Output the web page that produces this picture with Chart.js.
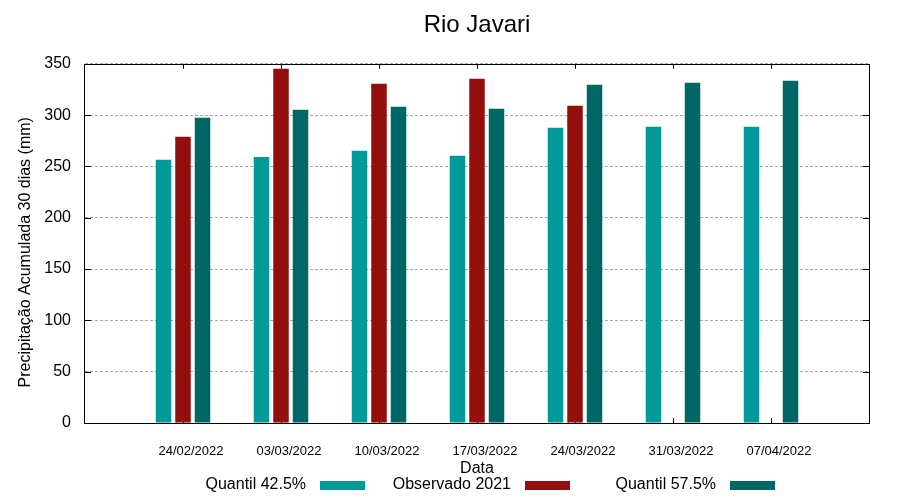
<!DOCTYPE html>
<html>
<head>
<meta charset="utf-8">
<title>Rio Javari</title>
<script src="https://cdn.jsdelivr.net/npm/chart.js@4.4.0/dist/chart.umd.min.js"></script>
<style>
  html, body { margin: 0; padding: 0; background: #fff; }
  #wrap { width: 900px; height: 500px; }
</style>
</head>
<body>
<div id="wrap"><canvas id="chart" width="900" height="500"></canvas></div>
<script>
// Data
const dates = ['24/02/2022', '03/03/2022', '10/03/2022', '17/03/2022', '24/03/2022', '31/03/2022', '07/04/2022'];
const quantil425 = [256.4, 259.3, 265.2, 260.3, 287.6, 288.6, 288.6];
const observado2021 = [278.8, 345.1, 330.5, 335.4, 309.1, null, null];
const quantil575 = [297.4, 305.2, 308.1, 306.1, 329.5, 331.5, 333.4];
const yTicks = [0, 50, 100, 150, 200, 250, 300, 350];

// empty slot on each side, like the gnuplot x range
const labels = ['', ...dates, ''];
const pad = arr => [null, ...arr, null];

Chart.defaults.font.family = '"Liberation Sans", Arial, sans-serif';
Chart.defaults.color = '#000';

// gnuplot style: inward ticks, closed frame, key with text before the sample
const gnuFrame = {
    id: 'gnuFrame',
    beforeDatasetsDraw(chart) {
        const { ctx, chartArea: a, scales: { x, y } } = chart;
        ctx.save();
        ctx.strokeStyle = '#000';
        ctx.lineWidth = 1;
        ctx.beginPath();
        yTicks.forEach(v => {
            const py = Math.round(y.getPixelForValue(v)) + 0.5;
            ctx.moveTo(a.left, py); ctx.lineTo(a.left + 6, py);
            ctx.moveTo(a.right, py); ctx.lineTo(a.right - 6, py);
        });
        dates.forEach((d, i) => {
            const px = Math.round(x.getPixelForValue(i + 1)) + 0.5;
            ctx.moveTo(px, a.top); ctx.lineTo(px, a.top + 5);
            ctx.moveTo(px, a.bottom); ctx.lineTo(px, a.bottom - 5);
        });
        ctx.stroke();
        ctx.restore();
    },
    afterDatasetsDraw(chart) {
        const { ctx, chartArea: a } = chart;
        ctx.save();
        ctx.strokeStyle = '#000';
        ctx.lineWidth = 1;
        ctx.strokeRect(Math.round(a.left) - 0.5, Math.round(a.top) + 0.5,
            Math.round(a.right - a.left) + 1, Math.round(a.bottom - a.top));
        ctx.restore();
    },
    afterDraw(chart) {
        const ctx = chart.ctx;
        ctx.save();
        ctx.font = '16px "Liberation Sans", Arial, sans-serif';
        ctx.textAlign = 'right';
        ctx.textBaseline = 'alphabetic';
        chart.data.datasets.forEach((ds, i) => {
            const sx = 320 + i * 205;
            ctx.fillStyle = '#000';
            ctx.fillText(ds.label, sx - 14, 489);
            ctx.fillStyle = ds.backgroundColor;
            ctx.fillRect(sx, 481, 45, 9);
        });
        ctx.restore();
    }
};

const barOpts = { barPercentage: 0.795, categoryPercentage: 0.597, borderWidth: 0 };

new Chart(document.getElementById('chart'), {
    type: 'bar',
    data: {
        labels: labels,
        datasets: [
            { label: 'Quantil 42.5%', data: pad(quantil425), backgroundColor: '#009999', ...barOpts },
            { label: 'Observado 2021', data: pad(observado2021), backgroundColor: '#940e0e', ...barOpts },
            { label: 'Quantil 57.5%', data: pad(quantil575), backgroundColor: '#006767', ...barOpts }
        ]
    },
    options: {
        responsive: false,
        animation: false,
        layout: { padding: { left: 0, right: 31, top: 0, bottom: 0 } },
        plugins: {
            legend: { display: false },
            tooltip: { enabled: false },
            title: {
                display: true,
                text: 'Rio Javari',
                fullSize: false,
                color: '#000',
                font: { size: 24, weight: 'normal' },
                padding: { top: 11, bottom: 24 }
            }
        },
        scales: {
            x: {
                type: 'category',
                offset: false,
                grid: { display: false },
                border: { display: false },
                ticks: { color: '#000', font: { size: 13 }, padding: 13, labelOffset: 8, maxRotation: 0, autoSkip: false },
                title: { display: true, text: 'Data', color: '#000', font: { size: 16 }, padding: { top: 0, bottom: 22 } },
                afterFit: s => { s.height = 77; }
            },
            y: {
                min: 0,
                max: 350,
                afterBuildTicks: s => { s.ticks = yTicks.map(v => ({ value: v })); },
                grid: { color: '#a8a8a8', drawTicks: false },
                border: { display: false, dash: [3, 2] },
                ticks: { color: '#000', font: { size: 16 }, padding: 14 },
                title: {
                    display: true,
                    // trailing spaces push the label a little lower, as gnuplot places it
                    text: 'Precipitação Acumulada 30 dias (mm)    ',
                    color: '#000',
                    font: { size: 16 },
                    padding: { top: 16, bottom: 0 }
                },
                afterFit: s => { s.width = 85; }
            }
        }
    },
    plugins: [gnuFrame]
});
</script>
</body>
</html>
